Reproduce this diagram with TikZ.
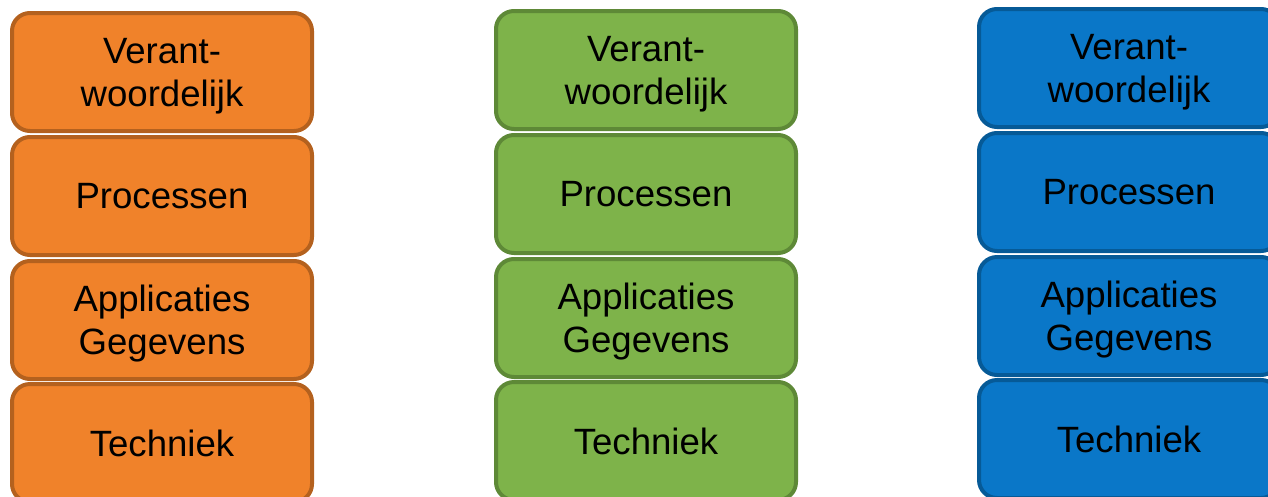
\documentclass[tikz,border=0pt]{standalone}
\usepackage{fontspec}
\setmainfont{Liberation Sans}
\definecolor{ofill}{HTML}{F0822A}
\definecolor{odraw}{HTML}{B4611E}
\definecolor{gfill}{HTML}{7EB34A}
\definecolor{gdraw}{HTML}{5E8937}
\definecolor{bfill}{HTML}{0A77C8}
\definecolor{bdraw}{HTML}{065A97}
\tikzset{
  layer/.style={rectangle, rounded corners=18pt, line width=4pt,
    minimum width=300pt, minimum height=118pt, inner sep=0pt,
    align=center, font=\fontsize{36.6pt}{43pt}\selectfont, text=black},
  twoline/.style={text depth=-2pt},
  orangebox/.style={layer, fill=ofill, draw=odraw},
  greenbox/.style={layer, fill=gfill, draw=gdraw},
  bluebox/.style={layer, fill=bfill, draw=bdraw}
}
\begin{document}
\begin{tikzpicture}[x=1pt,y=-1pt]
\useasboundingbox (0,0) rectangle (1268,496);
% orange column
\node[orangebox, twoline] (o1) at (162,72) {Verant-\\woordelijk};
\node[orangebox] (o2) at (162,196) {Processen};
\node[orangebox, twoline] (o3) at (162,320) {Applicaties\\Gegevens};
\node[orangebox] (o4) at (162,443) {Techniek};
% green column
\node[greenbox, twoline] (g1) at (646,70) {Verant-\\woordelijk};
\node[greenbox] (g2) at (646,194) {Processen};
\node[greenbox, twoline] (g3) at (646,318) {Applicaties\\Gegevens};
\node[greenbox] (g4) at (646,441) {Techniek};
% blue column
\node[bluebox, twoline] (b1) at (1129,68) {Verant-\\woordelijk};
\node[bluebox] (b2) at (1129,192) {Processen};
\node[bluebox, twoline] (b3) at (1129,316) {Applicaties\\Gegevens};
\node[bluebox] (b4) at (1129,439) {Techniek};
\end{tikzpicture}
\end{document}
